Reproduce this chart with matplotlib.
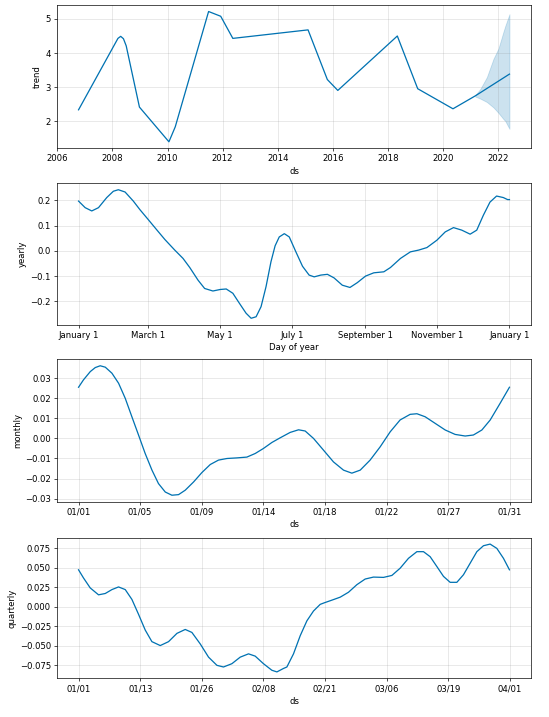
import numpy as np
import matplotlib
matplotlib.use('Agg')
import matplotlib.pyplot as plt

# trend (decimal year, value)
trend_t = [2006.77, 2008.2, 2008.3, 2008.4, 2008.5, 2008.98, 2010.05, 2010.15, 2010.28,
           2011.49, 2011.93, 2012.37, 2015.10, 2015.80, 2016.18, 2018.34, 2019.08,
           2020.36, 2021.17, 2022.41]
trend_y = [2.33, 4.43, 4.49, 4.42, 4.21, 2.41, 1.39, 1.58, 1.83,
           5.22, 5.08, 4.43, 4.68, 3.22, 2.90, 4.50, 2.95,
           2.36, 2.74, 3.38]
band_t = [2021.17, 2021.35, 2021.59, 2021.83, 2022.01, 2022.19, 2022.26, 2022.41]
band_lo = [2.72, 2.66, 2.56, 2.40, 2.24, 2.06, 2.00, 1.77]
band_hi = [2.76, 2.94, 3.29, 3.83, 4.13, 4.62, 4.80, 5.14]

# yearly (day of year, value)
yearly_d = [0, 5.6, 11.2, 16.9, 23.9, 29.5, 33.7, 39.4, 46.4, 52, 59, 66.1, 73.1, 81.5,
            88.5, 94.2, 101.2, 106.8, 113.8, 120, 125.1, 130.7, 136.3, 141.9, 146.2,
            150.4, 154.6, 158.8, 163, 166.5, 170, 174.3, 178.5, 184.1, 189.7, 195.3,
            199.6, 205.2, 210.8, 216.4, 223.4, 229.9, 236.1, 243.1, 250.1, 258.6,
            264.2, 272.7, 281.1, 288.1, 295.1, 303.5, 310.6, 317.6, 324.6, 331.7,
            337.3, 342.9, 348.5, 354.1, 359.8, 363.4, 365]
yearly_y = [0.197, 0.171, 0.158, 0.171, 0.211, 0.236, 0.242, 0.233, 0.197, 0.163, 0.124,
            0.084, 0.045, 0.003, -0.030, -0.066, -0.116, -0.149, -0.159, -0.153,
            -0.151, -0.168, -0.208, -0.247, -0.267, -0.261, -0.221, -0.142, -0.043,
            0.020, 0.055, 0.068, 0.055, -0.004, -0.061, -0.096, -0.103, -0.096,
            -0.093, -0.107, -0.136, -0.145, -0.126, -0.100, -0.087, -0.083, -0.066,
            -0.030, -0.004, 0.003, 0.013, 0.042, 0.075, 0.092, 0.082, 0.066, 0.082,
            0.141, 0.193, 0.217, 0.211, 0.203, 0.203]
yearly_ticks = [0, 59, 120, 181, 243, 304, 365]
yearly_labels = ['January 1', 'March 1', 'May 1', 'July 1', 'September 1',
                 'November 1', 'January 1']

# monthly (days since 01/01, value), period 30.5
monthly_d = [0, 0.35, 0.83, 1.18, 1.53, 1.89, 2.36, 2.83, 3.30, 3.77, 4.24, 4.71, 5.19,
             5.65, 6.13, 6.60, 7.07, 7.54, 8.13, 8.72, 9.31, 9.89, 10.49, 11.19, 11.90,
             12.49, 13.07, 13.67, 14.25, 14.96, 15.55, 16.02, 16.61, 17.31, 18.02,
             18.73, 19.32, 19.91, 20.61, 21.32, 22.03, 22.73, 23.44, 23.92, 24.50,
             25.21, 25.92, 26.62, 27.33, 27.91, 28.51, 29.10, 29.80, 30.46]
monthly_y = [0.0255, 0.0292, 0.0333, 0.0353, 0.0362, 0.0355, 0.0325, 0.0275, 0.0200,
             0.0108, 0.0017, -0.0075, -0.0158, -0.0225, -0.0267, -0.0283, -0.0280,
             -0.0258, -0.0217, -0.0170, -0.0130, -0.0108, -0.0100, -0.0097, -0.0093,
             -0.0075, -0.0050, -0.0020, 0.0003, 0.0030, 0.0043, 0.0037, 0.0000,
             -0.0058, -0.0117, -0.0158, -0.0173, -0.0158, -0.0108, -0.0042, 0.0033,
             0.0092, 0.0120, 0.0123, 0.0108, 0.0075, 0.0042, 0.0020, 0.0012, 0.0017,
             0.0042, 0.0092, 0.0175, 0.0255]
monthly_labels = ['01/01', '01/05', '01/09', '01/14', '01/18', '01/22', '01/27', '01/31']

# quarterly (days since 01/01, value), period 90
quarterly_d = [0, 1.04, 2.44, 4.17, 5.57, 6.96, 8.34, 9.74, 11.13, 12.51, 13.91, 15.30,
               17.04, 18.77, 20.52, 22.25, 23.64, 25.38, 27.11, 28.86, 30.23, 31.98,
               33.72, 35.45, 36.84, 38.57, 40.32, 41.37, 42.74, 43.45, 44.83, 46.23,
               47.62, 49.0, 50.40, 51.3, 52.84, 54.57, 56.30, 58.05, 59.78, 61.51,
               63.60, 65.35, 67.08, 68.81, 70.56, 71.94, 73.33, 74.73, 76.11, 77.50,
               78.90, 80.28, 81.67, 83.07, 84.45, 85.84, 87.24, 88.62, 89.87]
quarterly_y = [0.0472, 0.0367, 0.0240, 0.0152, 0.0169, 0.0219, 0.0253, 0.0219, 0.0093,
               -0.0097, -0.0299, -0.0447, -0.0497, -0.0447, -0.0341, -0.0291, -0.0329,
               -0.0476, -0.0645, -0.0750, -0.0771, -0.0729, -0.0645, -0.0603, -0.0632,
               -0.0729, -0.0813, -0.0834, -0.0790, -0.0771, -0.0603, -0.0371, -0.0181,
               -0.0055, 0.0030, 0.0051, 0.0084, 0.0122, 0.0185, 0.0282, 0.0354, 0.0379,
               0.0375, 0.0400, 0.0493, 0.0619, 0.0704, 0.0704, 0.0640, 0.0514, 0.0388,
               0.0312, 0.0312, 0.0409, 0.0556, 0.0704, 0.0780, 0.0801, 0.0746, 0.0619,
               0.0472]
quarterly_labels = ['01/01', '01/13', '01/26', '02/08', '02/21', '03/06', '03/19', '04/01']

col = '#0072B2'
fig = plt.figure(figsize=(9, 717 / 61), dpi=61)
W = 549.0
H = 717.0
boxes = [(57, 5, 531, 148.3), (57, 183.3, 531, 324.7),
         (57, 359.3, 531, 501.7), (57, 537.7, 531, 678.3)]
axs = []
for (x0, y0, x1, y1) in boxes:
    axs.append(fig.add_axes([x0 / W, 1 - y1 / H, (x1 - x0) / W, (y1 - y0) / H]))

def style(ax):
    ax.grid(True, which='major', c='gray', ls='-', lw=1, alpha=0.2)

# trend
ax = axs[0]
ax.plot(trend_t, trend_y, ls='-', c=col)
ax.fill_between(band_t, band_lo, band_hi, color=col, alpha=0.2)
ax.set_xticks(list(range(2006, 2023, 2)))
ax.set_xlabel('ds')
ax.set_ylabel('trend')
style(ax)

# yearly
ax = axs[1]
ax.plot(yearly_d, yearly_y, ls='-', c=col)
ax.set_xticks(yearly_ticks)
ax.set_xticklabels(yearly_labels)
ax.set_xlabel('Day of year')
ax.set_ylabel('yearly')
style(ax)

# monthly
ax = axs[2]
ax.plot(monthly_d, monthly_y, ls='-', c=col)
ax.set_xticks(np.linspace(0, 30.5, 8))
ax.set_xticklabels(monthly_labels)
ax.set_xlabel('ds')
ax.set_ylabel('monthly')
style(ax)

# quarterly
ax = axs[3]
ax.plot(quarterly_d, quarterly_y, ls='-', c=col)
ax.set_xticks(np.linspace(0, 90, 8))
ax.set_xticklabels(quarterly_labels)
ax.set_xlabel('ds')
ax.set_ylabel('quarterly')
style(ax)

fig.savefig('out.png', dpi=61)
